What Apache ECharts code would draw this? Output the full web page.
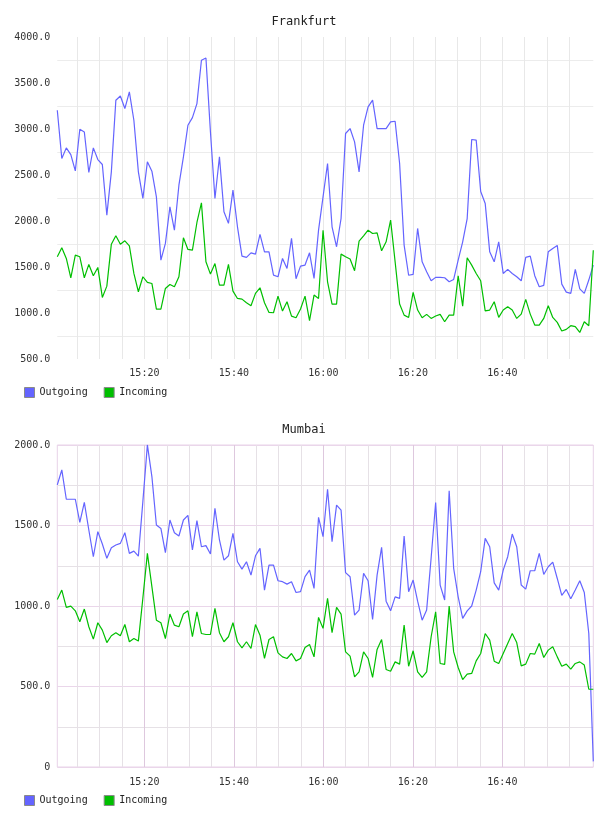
<!DOCTYPE html>
<html>
<head>
<meta charset="utf-8">
<script src="https://cdn.jsdelivr.net/npm/echarts@6/dist/echarts.min.js"></script>
<style>
html,body{margin:0;padding:0;background:#fff;}
#chart{width:608px;height:816px;}
</style>
</head>
<body>
<div id="chart"></div>
<script>
// ---- data ----
const startMinute = 32 / 60;      // first sample at 15:00:32 (minutes after 15:00)
const sampleSeconds = 60.4;       // sampling period
const seriesNames = ['Outgoing', 'Incoming'];
const xLabelMinutes = [20, 40, 60, 80, 100];           // 15:20 ... 16:40
const xLabelTexts = ['15:20', '15:40', '16:00', '16:20', '16:40'];
const xGridMinutes = [5, 10, 15, 20, 25, 30, 35, 40, 45, 50, 55, 60, 65, 70, 75, 80, 85, 90, 95, 100, 105, 110, 115];

const frankfurtOutgoing = [3204, 2679, 2795, 2722, 2545, 2997, 2968, 2527, 2795, 2668,
 2614, 2064, 2534, 3312, 3359, 3222, 3403, 3095, 2534, 2245,
 2643, 2541, 2262, 1575, 1756, 2154, 1901, 2389, 2697, 3041,
 3124, 3276, 3747, 3772, 2968, 2245, 2697, 2100, 1974, 2335,
 1937, 1618, 1604, 1654, 1640, 1854, 1665, 1665, 1412, 1394,
 1593, 1485, 1811, 1372, 1510, 1521, 1654, 1376, 1901, 2262,
 2625, 1937, 1720, 2027, 2951, 3005, 2860, 2534, 3041, 3240,
 3313, 3005, 3005, 3005, 3077, 3084, 2625, 1738, 1410, 1420,
 1919, 1556, 1448, 1350, 1387, 1387, 1383, 1340, 1365, 1575,
 1774, 2027, 2886, 2879, 2320, 2191, 1665, 1556, 1774, 1430,
 1474, 1430, 1394, 1350, 1604, 1618, 1405, 1285, 1300, 1665,
 1702, 1735, 1314, 1227, 1213, 1474, 1263, 1213, 1358, 1521];

const frankfurtIncoming = [1611, 1709, 1593, 1383, 1629, 1611, 1383, 1528, 1405, 1495,
 1169, 1292, 1748, 1839, 1748, 1785, 1730, 1430, 1231, 1394,
 1332, 1321, 1043, 1043, 1267, 1310, 1285, 1394, 1817, 1691,
 1683, 1984, 2197, 1557, 1423, 1538, 1303, 1303, 1528, 1238,
 1158, 1151, 1111, 1079, 1213, 1274, 1111, 1006, 1003, 1184,
 1021, 1122, 966, 948, 1043, 1184, 916, 1195, 1158, 1900,
 1339, 1097, 1097, 1640, 1611, 1586, 1459, 1781, 1839, 1900,
 1864, 1871, 1676, 1774, 2009, 1557, 1097, 977, 952, 1224,
 1032, 948, 985, 941, 967, 985, 905, 977, 977, 1405,
 1075, 1600, 1520, 1430, 1350, 1024, 1032, 1122, 952, 1032,
 1068, 1032, 941, 988, 1148, 988, 869, 869, 941, 1079,
 952, 898, 804, 822, 862, 851, 789, 905, 862, 1683];

const mumbaiOutgoing = [1752, 1845, 1663, 1663, 1663, 1520, 1644, 1472, 1306, 1462,
 1385, 1296, 1362, 1379, 1389, 1455, 1327, 1341, 1310, 1650,
 2001, 1804, 1503, 1482, 1331, 1534, 1455, 1435, 1534, 1563,
 1348, 1530, 1368, 1375, 1323, 1607, 1410, 1285, 1312, 1451,
 1275, 1229, 1275, 1192, 1312, 1358, 1099, 1254, 1254, 1157,
 1151, 1136, 1151, 1084, 1089, 1182, 1223, 1109, 1551, 1431,
 1725, 1399, 1627, 1596, 1207, 1182, 943, 975, 1203, 1157,
 916, 1192, 1364, 1030, 970, 1057, 1047, 1435, 1089, 1161,
 1030, 912, 975, 1300, 1642, 1130, 1037, 1715, 1234, 1057,
 923, 970, 1000, 1099, 1213, 1420, 1368, 1144, 1099, 1223,
 1306, 1447, 1368, 1130, 1105, 1219, 1219, 1327, 1196, 1244,
 1273, 1171, 1066, 1103, 1045, 1099, 1157, 1084, 829, 35];

const mumbaiIncoming = [1041, 1099, 991, 999, 970, 902, 981, 871, 794, 896,
 850, 773, 815, 834, 815, 885, 778, 798, 782, 1050,
 1327, 1120, 912, 896, 798, 950, 881, 871, 950, 970,
 809, 964, 829, 823, 823, 985, 834, 778, 809, 896,
 778, 740, 778, 736, 885, 819, 674, 792, 809, 709,
 684, 674, 705, 659, 674, 742, 761, 684, 929, 861,
 1047, 834, 991, 950, 715, 689, 560, 591, 715, 674,
 556, 730, 792, 606, 595, 653, 639, 881, 626, 722,
 591, 556, 591, 809, 964, 643, 637, 999, 715, 618,
 543, 577, 581, 659, 705, 829, 788, 657, 643, 705,
 767, 829, 773, 628, 639, 705, 701, 767, 680, 726,
 747, 684, 626, 639, 608, 643, 653, 633, 483, 483];

// ---- build ----
const xs = frankfurtOutgoing.map((_, i) => startMinute + i * sampleSeconds / 60);
const xMin = xs[0], xMax = xs[xs.length - 1];
const pair = arr => arr.map((v, i) => [xs[i], v]);
const labelFmt = v => {
  const idx = xLabelMinutes.findIndex(m => Math.abs(m - v) < 1e-6);
  return idx >= 0 ? xLabelTexts[idx] : '';
};

const FONT = 'DejaVu Sans Mono';
const colors = ['#6464ff', '#00bf00'];
const labelStyle = {fontFamily: FONT, fontSize: 10, color: '#333'};

const grids = [
  {left: 57.3, top: 37, width: 536, height: 322},
  {left: 57.3, top: 445, width: 536, height: 322, show: true, borderColor: '#e8d2e8', borderWidth: 1, backgroundColor: 'transparent'}
];

function xAxis(gridIndex, gridVals, labelVals, lineColor, showLabels, margin) {
  return {
    type: 'value', gridIndex, position: 'bottom', min: xMin, max: xMax,
    axisLine: {show: false},
    axisTick: {show: false, customValues: gridVals},
    axisLabel: Object.assign({show: showLabels, customValues: labelVals, margin: margin || 9, formatter: labelFmt, hideOverlap: false}, labelStyle),
    splitLine: {show: true, lineStyle: {color: lineColor, width: 1}}
  };
}

const xAxes = [
  xAxis(0, xGridMinutes, xLabelMinutes, '#e8e8e8', true, 9),
  xAxis(1, xGridMinutes, xLabelMinutes, '#e6e1e6', false, 10),
  xAxis(1, xLabelMinutes, xLabelMinutes, '#dec8de', true, 10)
];

const yAxes = [
  {type: 'value', gridIndex: 0, min: 500, max: 4000, interval: 500,
   axisLine: {show: false}, axisTick: {show: false},
   axisLabel: Object.assign({margin: 7, formatter: v => v.toFixed(1)}, labelStyle),
   splitLine: {show: false},
   minorTick: {show: false, splitNumber: 2},
   minorSplitLine: {show: true, lineStyle: {color: '#ececec', width: 1}}},
  {type: 'value', gridIndex: 1, min: 0, max: 2000, interval: 500,
   axisLine: {show: false}, axisTick: {show: false},
   axisLabel: Object.assign({margin: 7, formatter: v => v === 0 ? '0' : v.toFixed(1)}, labelStyle),
   splitLine: {show: true, lineStyle: {color: '#ead6ea', width: 1}},
   minorTick: {show: false, splitNumber: 2},
   minorSplitLine: {show: true, lineStyle: {color: '#e6e1e6', width: 1}}}
];

function line(name, data, xi, yi, color) {
  return {name, type: 'line', xAxisIndex: xi, yAxisIndex: yi, data: pair(data),
    showSymbol: false, symbol: 'none', lineStyle: {color, width: 1.2}, itemStyle: {color},
    emphasis: {disabled: true}};
}

const legendCommon = {
  left: 24, padding: 0, icon: 'rect', itemWidth: 10, itemHeight: 10, itemGap: 16,
  textStyle: {fontFamily: FONT, fontSize: 10, color: '#222'},
  itemStyle: {borderColor: '#8a8a8a', borderWidth: 1},
  data: seriesNames
};

const chart = echarts.init(document.getElementById('chart'), null, {renderer: 'canvas'});
chart.setOption({
  animation: false,
  backgroundColor: '#fff',
  title: [
    {text: 'Frankfurt', left: 'center', top: 11, textStyle: {fontFamily: FONT, fontSize: 12, fontWeight: 'normal', color: '#222'}},
    {text: 'Mumbai', left: 'center', top: 419, textStyle: {fontFamily: FONT, fontSize: 12, fontWeight: 'normal', color: '#222'}}
  ],
  legend: [
    Object.assign({top: 387}, legendCommon),
    Object.assign({top: 795}, legendCommon)
  ],
  grid: grids,
  xAxis: xAxes,
  yAxis: yAxes,
  series: [
    line(seriesNames[0], frankfurtOutgoing, 0, 0, colors[0]),
    line(seriesNames[1], frankfurtIncoming, 0, 0, colors[1]),
    line(seriesNames[0], mumbaiOutgoing, 2, 1, colors[0]),
    line(seriesNames[1], mumbaiIncoming, 2, 1, colors[1])
  ]
});
</script>
</body>
</html>
